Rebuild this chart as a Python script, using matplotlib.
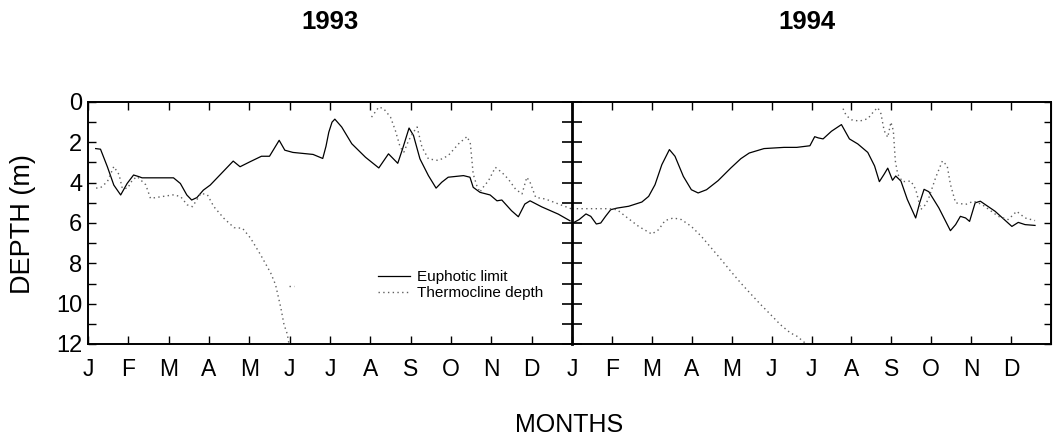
import numpy as np
import matplotlib
matplotlib.use("Agg")
import matplotlib.pyplot as plt
from matplotlib.ticker import MultipleLocator

plt.rcParams['font.family'] = ['Liberation Sans', 'DejaVu Sans']

# month letters and years
months = ['J', 'F', 'M', 'A', 'M', 'J', 'J', 'A', 'S', 'O', 'N', 'D']
years = ['1993', '1994']

# 1993 euphotic limit (x in months from 1 Jan, depth in m)
eu93_m = [0.19, 0.31, 0.48, 0.64, 0.81, 0.97, 1.13, 1.26, 1.34, 2.12, 2.29, 2.45, 2.57, 2.7,
          2.86, 3.03, 3.27, 3.6, 3.77, 4.01, 4.3, 4.5, 4.74, 4.88, 5.08, 5.58, 5.82, 5.9, 5.97,
          6.05, 6.12, 6.29, 6.54, 6.88, 7.21, 7.45, 7.68, 7.8, 7.96, 8.07, 8.23, 8.44, 8.63,
          8.77, 8.93, 9.31, 9.47, 9.55, 9.72, 9.97, 10.14, 10.26, 10.5, 10.67, 10.83, 10.96,
          11.25, 11.66, 11.95]
eu93_d = [2.31, 2.34, 3.21, 4.12, 4.61, 4.04, 3.62, 3.7, 3.76, 3.76, 4.04, 4.61, 4.86, 4.74,
          4.37, 4.12, 3.62, 2.93, 3.21, 2.97, 2.69, 2.69, 1.9, 2.39, 2.5, 2.6, 2.8, 2.2, 1.5,
          1.0, 0.85, 1.24, 2.07, 2.74, 3.27, 2.57, 3.04, 2.32, 1.29, 1.66, 2.82, 3.65, 4.27,
          3.98, 3.73, 3.65, 3.73, 4.23, 4.48, 4.61, 4.9, 4.86, 5.39, 5.69, 5.06, 4.9,
          5.2, 5.56, 5.89]

# 1993 thermocline depth (two pieces + a short stray dash)
th93a_m = [0.2, 0.31, 0.48, 0.64, 0.77, 0.85, 0.98, 1.1, 1.22, 1.43, 1.55, 1.8, 2.13, 2.3,
           2.46, 2.59, 2.8, 2.96, 3.12, 3.37, 3.62, 3.83, 4.03, 4.28, 4.53, 4.65, 4.78, 4.86,
           4.94, 5.0]
th93a_d = [4.27, 4.25, 3.95, 3.2, 3.6, 4.28, 4.28, 3.87, 3.7, 4.1, 4.78, 4.7, 4.6, 4.7,
           5.1, 5.19, 4.53, 4.6, 5.19, 5.77, 6.23, 6.26, 6.75, 7.58, 8.48, 9.06, 10.2, 11.04,
           11.5, 12.2]
th93c_m = [4.98, 5.1]
th93c_d = [9.1, 9.1]
th93b_m = [7.03, 7.21, 7.33, 7.5, 7.62, 7.74, 7.83, 7.95, 8.07, 8.16, 8.28, 8.44, 8.69, 8.93,
           9.19, 9.4, 9.48, 9.55, 9.64, 9.72, 9.76, 9.93, 10.1, 10.26, 10.42, 10.6, 10.76,
           10.88, 10.96, 11.1, 11.34, 11.67, 12.0]
th93b_d = [0.75, 0.25, 0.33, 0.75, 1.41, 2.24, 2.49, 1.91, 1.49, 1.24, 2.24, 2.82, 2.9, 2.66,
           2.07, 1.71, 2.07, 3.57, 4.15, 4.48, 4.32, 3.9, 3.24, 3.49, 3.82, 4.32, 4.56,
           3.73, 3.98, 4.73, 4.81, 5.06, 5.31]

# 1994 euphotic limit
eu94_m = [0.02, 0.18, 0.35, 0.47, 0.61, 0.72, 0.84, 0.97, 1.13, 1.42, 1.75, 1.92, 2.08, 2.25,
          2.44, 2.58, 2.79, 2.99, 3.16, 3.37, 3.66, 3.98, 4.23, 4.44, 4.81, 5.31, 5.63, 5.96,
          6.08, 6.17, 6.29, 6.5, 6.75, 6.95, 7.16, 7.41, 7.58, 7.7, 7.82, 7.91, 8.03, 8.11,
          8.24, 8.4, 8.61, 8.71, 8.82, 8.94, 9.19, 9.48, 9.61, 9.73, 9.86, 9.96, 10.1, 10.23,
          10.6, 11.02, 11.18, 11.35, 11.6]
eu94_d = [6.0, 5.83, 5.55, 5.67, 6.05, 6.0, 5.67, 5.34, 5.26, 5.17, 4.96, 4.68, 4.1, 3.11,
          2.36, 2.69, 3.69, 4.35, 4.51, 4.35, 3.9, 3.27, 2.81, 2.53, 2.31, 2.25, 2.25, 2.17,
          1.72, 1.78, 1.83, 1.45, 1.12, 1.83, 2.08, 2.5, 3.17, 3.95, 3.58, 3.28, 3.88, 3.67,
          3.92, 4.83, 5.75, 5.0, 4.33, 4.45, 5.25, 6.38, 6.08, 5.67, 5.75, 5.92, 5.0, 4.92,
          5.42, 6.17, 5.97, 6.08, 6.12]

# 1994 thermocline depth
th94a_m = [0.0, 0.51, 0.93, 1.13, 1.34, 1.67, 2.0, 2.17, 2.33, 2.54, 2.74, 2.99, 3.24, 3.49,
           3.74, 3.98, 4.23, 4.48, 4.73, 4.98, 5.22, 5.47, 5.64, 5.84]
th94a_d = [5.29, 5.29, 5.29, 5.34, 5.67, 6.17, 6.55, 6.33, 5.88, 5.75, 5.83, 6.17, 6.66, 7.24,
           7.82, 8.4, 8.98, 9.52, 10.05, 10.55, 11.04, 11.45, 11.62, 11.95]
th94b_m = [6.79, 6.87, 7.0, 7.2, 7.41, 7.58, 7.66, 7.74, 7.82, 7.91, 7.99, 8.05, 8.1, 8.16,
           8.28, 8.49, 8.61, 8.74, 8.86, 8.94, 9.11, 9.28, 9.4, 9.48, 9.61, 9.86, 10.06,
           10.27, 10.68, 10.93, 11.14, 11.35, 11.6]
th94b_d = [0.33, 0.67, 0.88, 0.95, 0.83, 0.42, 0.28, 0.58, 1.42, 1.75, 1.0, 1.42, 2.92, 3.58,
           3.95, 3.92, 4.33, 5.33, 5.08, 4.75, 3.75, 2.92, 3.17, 4.08, 5.0, 5.08, 4.92,
           5.08, 5.67, 5.83, 5.42, 5.75, 5.88]

W, H = 1053, 438
fig = plt.figure(figsize=(W / 100, H / 100), dpi=100)
top, bot = 102, 344
ax1 = fig.add_axes([88 / W, 1 - bot / H, (572 - 88) / W, (bot - top) / H])
ax2 = fig.add_axes([572 / W, 1 - bot / H, (1051 - 572) / W, (bot - top) / H])

solid = dict(color='black', lw=0.9)
dots = dict(color='#606060', lw=1.0, linestyle=(0, (1, 2.4)))

ax1.plot(eu93_m, eu93_d, label='Euphotic limit', **solid)
ax1.plot(th93a_m, th93a_d, label='Thermocline depth', **dots)
ax1.plot(th93b_m, th93b_d, **dots)
ax1.plot(th93c_m, th93c_d, **dots)

ax2.plot(eu94_m, eu94_d, **solid)
ax2.plot(th94a_m, th94a_d, **dots)
ax2.plot(th94b_m, th94b_d, **dots)

for ax in (ax1, ax2):
    ax.set_xlim(0, 12)
    ax.set_ylim(12, 0)
    ax.set_xticks(range(12))
    ax.set_xticklabels(months, fontsize=16.5)
    ax.yaxis.set_major_locator(MultipleLocator(2))
    ax.yaxis.set_minor_locator(MultipleLocator(1))
    ax.tick_params(axis='x', direction='in', top=True, bottom=True, length=6,
                   width=1, pad=10)
    for s in ax.spines.values():
        s.set_linewidth(1.4)

ax1.tick_params(axis='y', which='both', direction='in', left=True, right=False,
                length=6, width=1, labelsize=17, pad=4)
ax2.tick_params(axis='y', which='both', direction='inout', left=True, right=False,
                length=15, width=1.2, labelleft=False)
ax2.spines['left'].set_linewidth(2)
ax1.spines['right'].set_visible(False)

# inward ticks on the far right edge
ax2r = ax2.secondary_yaxis('right')
ax2r.yaxis.set_major_locator(MultipleLocator(1))
ax2r.tick_params(axis='y', direction='in', length=5, width=1, labelright=False)

ax1.legend(loc='upper left', bbox_to_anchor=(0.599, 0.305), frameon=False,
           fontsize=11, handlelength=2.1, handletextpad=0.45, labelspacing=0.15,
           borderpad=0, borderaxespad=0)

fig.text(330 / W, 1 - 22 / H, years[0], ha='center', va='center', fontsize=18.5,
         fontweight='bold')
fig.text(807 / W, 1 - 22 / H, years[1], ha='center', va='center', fontsize=18.5,
         fontweight='bold')
fig.text(23 / W, 1 - 224 / H, 'DEPTH (m)', ha='center', va='center', rotation=90,
         fontsize=19.5)
fig.text(569 / W, 1 - 425 / H, 'MONTHS', ha='center', va='center', fontsize=18)

fig.savefig('out.png', dpi=100)
